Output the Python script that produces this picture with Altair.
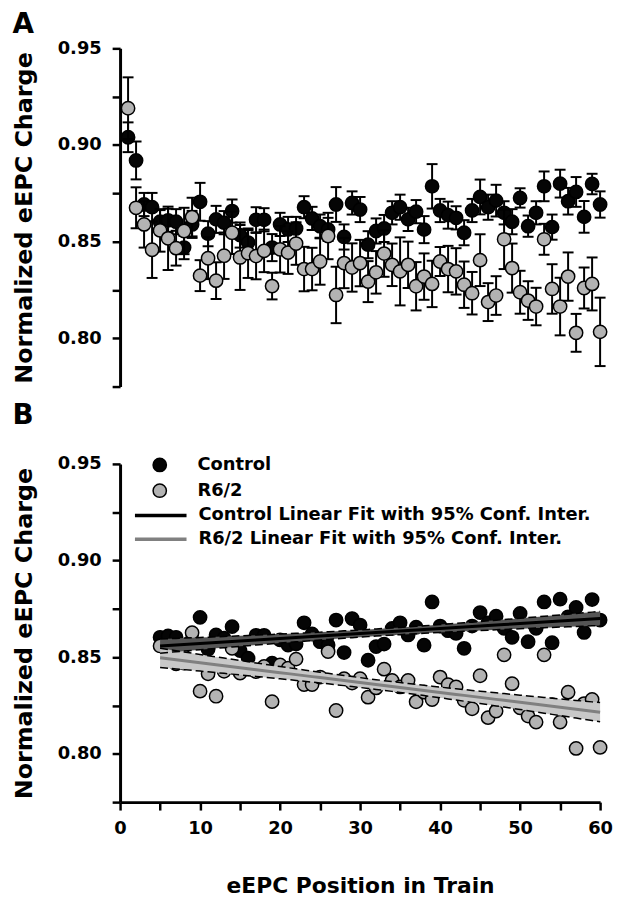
import altair as alt
import numpy as np
import pandas as pd

# ---------------- data ----------------
positions = list(range(1, 61))

control_mean = [
    0.9040, 0.8920, 0.8692, 0.8678, 0.8603, 0.8610, 0.8603, 0.8469, 0.8589, 0.8706,
    0.8541, 0.8615, 0.8598, 0.8658, 0.8534, 0.8495, 0.8613, 0.8613, 0.8469, 0.8589,
    0.8563, 0.8568, 0.8678, 0.8620, 0.8580, 0.8563, 0.8692, 0.8524, 0.8700, 0.8666,
    0.8484, 0.8555, 0.8568, 0.8649, 0.8678, 0.8615, 0.8655, 0.8562, 0.8786, 0.8661,
    0.8637, 0.8623, 0.8546, 0.8661, 0.8731, 0.8678, 0.8712, 0.8649, 0.8603, 0.8726,
    0.8580, 0.8649, 0.8786, 0.8575, 0.8800, 0.8709, 0.8757, 0.8628, 0.8798, 0.8692,
]
control_sem = [
    0.0077, 0.0098, 0.0060, 0.0074, 0.0060, 0.0060, 0.0065, 0.0060, 0.0070, 0.0098,
    0.0065, 0.0070, 0.0060, 0.0060, 0.0065, 0.0065, 0.0065, 0.0060, 0.0070, 0.0060,
    0.0065, 0.0060, 0.0057, 0.0060, 0.0060, 0.0060, 0.0090, 0.0065, 0.0060, 0.0065,
    0.0070, 0.0065, 0.0070, 0.0060, 0.0065, 0.0060, 0.0060, 0.0070, 0.0115, 0.0060,
    0.0070, 0.0060, 0.0065, 0.0060, 0.0090, 0.0065, 0.0082, 0.0060, 0.0065, 0.0050,
    0.0055, 0.0060, 0.0077, 0.0065, 0.0072, 0.0069, 0.0077, 0.0082, 0.0053, 0.0068,
]
r62_mean = [
    0.9190, 0.8675, 0.8589, 0.8458, 0.8558, 0.8517, 0.8466, 0.8555, 0.8627, 0.8324,
    0.8414, 0.8298, 0.8427, 0.8546, 0.8418, 0.8440, 0.8425, 0.8452, 0.8270, 0.8460,
    0.8443, 0.8490, 0.8358, 0.8358, 0.8397, 0.8529, 0.8224, 0.8389, 0.8366, 0.8389,
    0.8293, 0.8341, 0.8438, 0.8380, 0.8346, 0.8380, 0.8269, 0.8319, 0.8281, 0.8397,
    0.8358, 0.8346, 0.8277, 0.8233, 0.8404, 0.8187, 0.8221, 0.8512, 0.8363, 0.8238,
    0.8195, 0.8164, 0.8512, 0.8255, 0.8164, 0.8319, 0.8028, 0.8260, 0.8281, 0.8033,
]
r62_sem = [
    0.0160, 0.0106, 0.0120, 0.0146, 0.0110, 0.0164, 0.0090, 0.0120, 0.0100, 0.0080,
    0.0108, 0.0095, 0.0120, 0.0110, 0.0168, 0.0128, 0.0120, 0.0110, 0.0069, 0.0120,
    0.0110, 0.0110, 0.0115, 0.0110, 0.0120, 0.0120, 0.0146, 0.0130, 0.0125, 0.0120,
    0.0106, 0.0110, 0.0120, 0.0110, 0.0176, 0.0120, 0.0125, 0.0120, 0.0120, 0.0075,
    0.0120, 0.0120, 0.0120, 0.0110, 0.0134, 0.0098, 0.0100, 0.0154, 0.0127, 0.0111,
    0.0100, 0.0097, 0.0080, 0.0128, 0.0149, 0.0125, 0.0098, 0.0106, 0.0137, 0.0177,
]

groups = ["Control", "R6/2"]
fit_names = ["Control Linear Fit with 95% Conf. Inter.",
             "R6/2 Linear Fit with 95% Conf. Inter."]
fit_first_position = 5
t_crit = 2.005  # t(0.975, df=54)

y_tick_values = [0.775, 0.8, 0.825, 0.85, 0.875, 0.9, 0.925, 0.95]
x_tick_values = list(range(0, 61, 5))

# ---------------- styles ----------------
FONT = "DejaVu Sans"
POINT_FILLS = ["#050505", "#b3b3b3"]
LINE_COLORS = ["#000000", "#808080"]
BAND_FILLS = ["#555555", "#c8c8c8"]
PT_SIZE = 180
LEGEND_LINE_PATH = "M-4,0H4"
PANEL_W = 484
PANEL_H = 341

means = {"Control": control_mean, "R6/2": r62_mean}
sems = {"Control": control_sem, "R6/2": r62_sem}

rows = []
for g in groups:
    for p, m, s in zip(positions, means[g], sems[g]):
        rows.append({"pos": p, "value": m, "lo": m - s, "hi": m + s, "group": g})
pts = pd.DataFrame(rows)

fit_frames = []
for g, fname in zip(groups, fit_names):
    x = np.array(positions[fit_first_position - 1:], dtype=float)
    y = np.array(means[g][fit_first_position - 1:], dtype=float)
    slope, intercept = np.polyfit(x, y, 1)
    yhat = intercept + slope * x
    n = len(x)
    s = np.sqrt(np.sum((y - yhat) ** 2) / (n - 2))
    xbar = x.mean()
    sxx = np.sum((x - xbar) ** 2)
    half = t_crit * s * np.sqrt(1.0 / n + (x - xbar) ** 2 / sxx)
    fit_frames.append(pd.DataFrame({"pos": x, "fit": yhat, "lo": yhat - half,
                                    "hi": yhat + half, "group": g, "fitname": fname}))
fits = pd.concat(fit_frames, ignore_index=True)

x_scale = alt.Scale(domain=[0, 60], nice=False, zero=False)
y_scale = alt.Scale(domain=[0.775, 0.95], nice=False, zero=False)

Y_LABEL_EXPR = "round(datum.value * 1000) % 50 == 0 ? format(datum.value, '.2f') : ''"
X_LABEL_EXPR = "datum.value % 10 == 0 ? format(datum.value, 'd') : ''"


def y_axis():
    return alt.Axis(values=y_tick_values, labelExpr=Y_LABEL_EXPR,
                    title="Normalized eEPC Charge", labelFlush=False,
                    labelOverlap=False)


def x_axis_b():
    return alt.Axis(values=x_tick_values, labelExpr=X_LABEL_EXPR,
                    title="eEPC Position in Train", labelFlush=False,
                    labelOverlap=False, titleFontSize=22, titlePadding=38,
                    labelPadding=10)


def yenc(field):
    return alt.Y(field, type="quantitative", scale=y_scale, axis=y_axis())


# ---------------- panel A ----------------
layers_a = []
for g, col in zip(groups, POINT_FILLS):
    base = alt.Chart(pts).transform_filter(alt.datum.group == g)
    xa = alt.X("pos:Q", scale=x_scale, axis=None)
    layers_a.append(base.mark_rule(color="black", strokeWidth=2).encode(
        x=xa, y=yenc("lo"), y2="hi:Q"))
    layers_a.append(base.mark_tick(orient="horizontal", color="black", size=11,
                                   thickness=2, opacity=1).encode(x=xa, y=yenc("hi")))
    layers_a.append(base.mark_tick(orient="horizontal", color="black", size=11,
                                   thickness=2, opacity=1).encode(x=xa, y=yenc("lo")))
    layers_a.append(base.mark_circle(size=PT_SIZE, color=col, stroke="black",
                                     strokeWidth=1.5, opacity=1).encode(x=xa, y=yenc("value")))

panel_a = alt.layer(*layers_a).properties(
    width=PANEL_W, height=PANEL_H,
    title=alt.Title("A", anchor="start", frame="bounds", fontSize=28, font=FONT,
                    fontWeight="bold", color="black", offset=0),
)

# ---------------- panel B ----------------
xb = alt.X("pos:Q", scale=x_scale, axis=x_axis_b())
pts_b = alt.Chart(pts).transform_filter(alt.datum.pos >= fit_first_position)

legend_common = dict(title=None, orient="none", labelFont=FONT, labelFontSize=18,
                     labelFontWeight="bold", labelColor="black", labelOffset=29,
                     rowPadding=6, labelLimit=600, symbolOpacity=1)

points_b = pts_b.mark_circle(size=PT_SIZE, stroke="black", strokeWidth=1.5, opacity=1).encode(
    x=xb, y=yenc("value"),
    fill=alt.Fill("group:N", scale=alt.Scale(domain=groups, range=POINT_FILLS),
                  legend=alt.Legend(legendX=31, legendY=-8, symbolType="circle",
                                    symbolSize=PT_SIZE, symbolStrokeColor="black",
                                    symbolStrokeWidth=1.5, **legend_common)),
)

layers_b = [points_b]
for g, band in zip(groups, BAND_FILLS):
    fb = alt.Chart(fits).transform_filter(alt.datum.group == g)
    layers_b.append(fb.mark_area(color=band, opacity=1).encode(x=xb, y=yenc("lo"), y2="hi:Q"))
for g in groups:
    fb = alt.Chart(fits).transform_filter(alt.datum.group == g)
    for f in ["lo", "hi"]:
        layers_b.append(fb.mark_line(color="black", strokeWidth=1.5, strokeDash=[8, 4]).encode(
            x=xb, y=yenc(f)))

lines_b = alt.Chart(fits).mark_line(strokeWidth=3).encode(
    x=xb, y=yenc("fit"),
    stroke=alt.Stroke("fitname:N", scale=alt.Scale(domain=fit_names, range=LINE_COLORS),
                      legend=alt.Legend(legendX=32, legendY=43, symbolType=LEGEND_LINE_PATH,
                                        symbolSize=169, symbolStrokeWidth=3.5,
                                        **legend_common)),
)
layers_b.append(lines_b)

panel_b = alt.layer(*layers_b).properties(
    width=PANEL_W, height=PANEL_H,
    title=alt.Title("B", anchor="start", frame="bounds", fontSize=28, font=FONT,
                    fontWeight="bold", color="black", offset=25),
)

chart = alt.vconcat(panel_a, panel_b, spacing=7).resolve_scale(
    fill="independent", stroke="independent"
).resolve_legend(
    fill="independent", stroke="independent"
).properties(
    padding={"left": 4, "top": 0, "right": 0, "bottom": 0}
).configure_view(stroke=None).configure_axis(
    grid=False, domainColor="black", domainWidth=3, tickColor="black", tickWidth=2.5,
    tickSize=8, labelFont=FONT, labelFontSize=18, labelFontWeight="bold",
    labelColor="black", labelPadding=11, titleFont=FONT, titleFontSize=24,
    titleFontWeight="bold", titleColor="black", titlePadding=21,
)

chart.save("out.html", embed_options={"renderer": "svg", "actions": False})
